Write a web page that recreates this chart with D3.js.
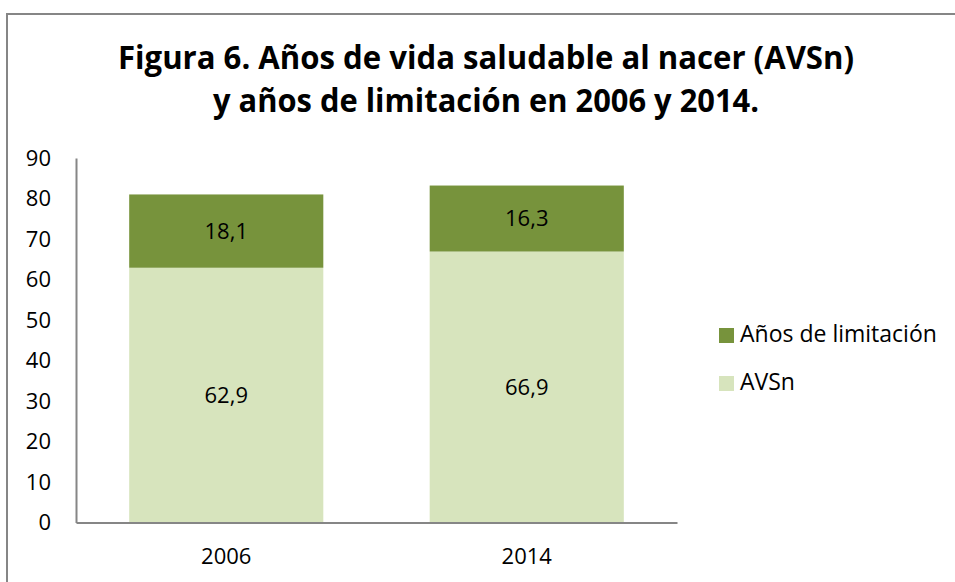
<!DOCTYPE html>
<html>
<head>
<meta charset="utf-8">
<script src="https://cdn.jsdelivr.net/npm/d3@7"></script>
<style>
  body { margin: 0; background: #fff; }
  text { font-family: "Open Sans", "Liberation Sans", sans-serif; fill: #000; }
</style>
</head>
<body>
<div class="canvas"></div>
<script>
// chart values
const years = ['2006', '2014'];
const avsn = [62.9, 66.9];
const limitacion = [18.1, 16.3];
const seriesNames = ['Años de limitación', 'AVSn'];
const seriesColors = ['#77933c', '#d7e4bd'];
const yTicks = [0, 10, 20, 30, 40, 50, 60, 70, 80, 90];
const titleLines = ['Figura 6. Años de vida saludable al nacer (AVSn)', 'y años de limitación en 2006 y 2014.'];

const width = 955, height = 582;

const svg = d3.select('.canvas')
  .append('svg')
    .attr('width', width)
    .attr('height', height);

// outer frame (runs off the right/bottom of the picture)
svg.append('rect')
  .attr('x', 7).attr('y', 14)
  .attr('width', 1000).attr('height', 700)
  .attr('fill', 'none')
  .attr('stroke', '#868686')
  .attr('stroke-width', 2);

// title
const titleWidths = [736, 546];
svg.selectAll('.title')
  .data(titleLines)
  .enter()
  .append('text')
    .attr('class', 'title')
    .attr('x', 486)
    .attr('y', (d, i) => 69 + i * 43)
    .attr('text-anchor', 'middle')
    .attr('font-size', 32)
    .attr('font-weight', 700)
    .attr('textLength', (d, i) => titleWidths[i])
    .attr('lengthAdjust', 'spacingAndGlyphs')
    .text(d => d);

const margin = {top: 158, left: 76};
const graphWidth = 601;
const graphHeight = 522.5 - margin.top;

const graph = svg.append('g')
  .attr('transform', `translate(${margin.left}, ${margin.top})`);

const x = d3.scaleBand()
  .domain(years)
  .range([0, graphWidth])
  .paddingInner(0.354)
  .paddingOuter(0.177);

const y = d3.scaleLinear()
  .domain([0, 90])
  .range([graphHeight, 0]);

// stack the two series
const rows = years.map((yr, i) => ({year: yr, AVSn: avsn[i], 'Años de limitación': limitacion[i]}));
const stacked = d3.stack().keys(['AVSn', 'Años de limitación'])(rows);
const color = d3.scaleOrdinal().domain(seriesNames).range(seriesColors);

const fmt = d3.formatLocale({decimal: ',', thousands: '.', grouping: [3], currency: ['', '€']}).format('.1f');

const layers = graph.selectAll('.layer')
  .data(stacked)
  .enter()
  .append('g')
    .attr('class', 'layer')
    .attr('fill', d => color(d.key));

layers.selectAll('rect')
  .data(d => d)
  .enter()
  .append('rect')
    .attr('x', d => x(d.data.year))
    .attr('y', d => y(d[1]))
    .attr('width', x.bandwidth())
    .attr('height', d => y(d[0]) - y(d[1]));

layers.selectAll('.val')
  .data(d => d.map(p => ({p, key: d.key})))
  .enter()
  .append('text')
    .attr('class', 'val')
    .attr('x', d => x(d.p.data.year) + x.bandwidth() / 2)
    .attr('y', d => (y(d.p[0]) + y(d.p[1])) / 2)
    .attr('dy', '0.35em')
    .attr('text-anchor', 'middle')
    .attr('font-size', 22)
    .text(d => fmt(d.p.data[d.key]));

// axes
const yAxis = d3.axisLeft(y).tickValues(yTicks).tickSize(0).tickPadding(25);
const xAxis = d3.axisBottom(x).tickSize(0).tickPadding(26);

const yAxisGroup = graph.append('g').call(yAxis);
const xAxisGroup = graph.append('g')
  .attr('transform', `translate(0, ${graphHeight})`)
  .call(xAxis);

[yAxisGroup, xAxisGroup].forEach(g => {
  g.select('.domain').attr('stroke', '#868686').attr('stroke-width', 2);
  g.selectAll('text')
    .attr('font-size', 22)
    .attr('font-family', '"Open Sans", sans-serif')
    .attr('fill', '#000');
});

// legend
const legend = svg.append('g')
  .attr('transform', 'translate(719, 328)');

const items = legend.selectAll('.item')
  .data(seriesNames)
  .enter()
  .append('g')
    .attr('transform', (d, i) => `translate(0, ${i * 48})`);

items.append('rect')
  .attr('width', 15).attr('height', 15)
  .attr('fill', d => color(d));

items.append('text')
  .attr('x', 21)
  .attr('y', 14)
  .attr('font-size', 23)
  .text(d => d);
</script>
</body>
</html>
